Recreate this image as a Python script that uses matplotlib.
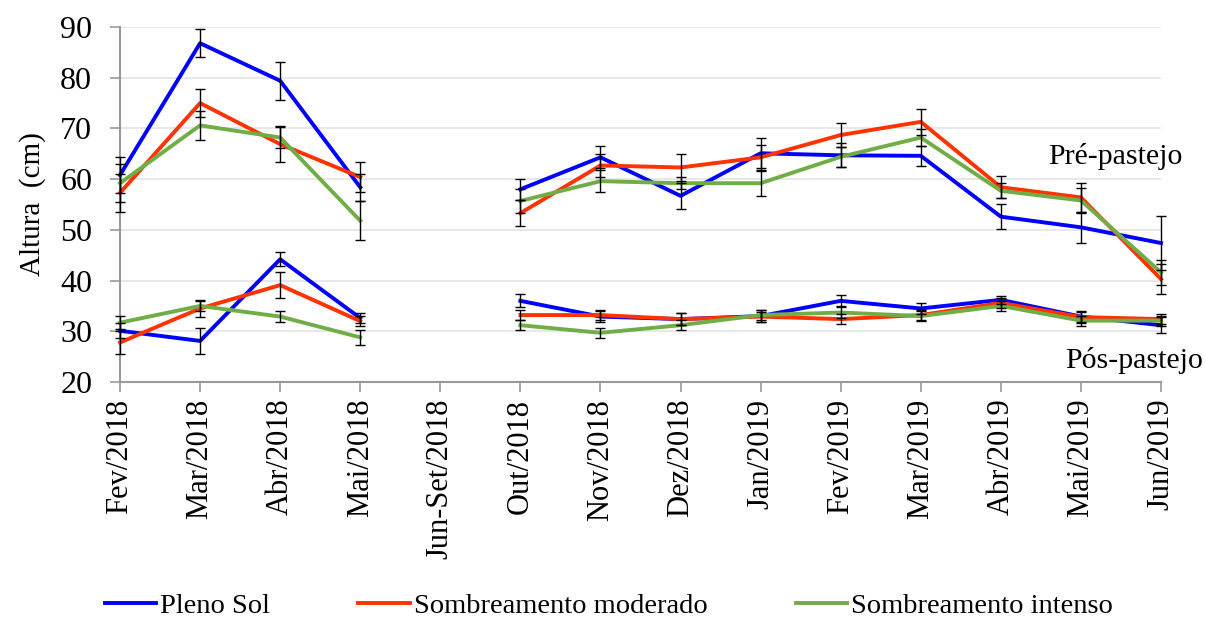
import numpy as np
import matplotlib.pyplot as plt

nan = np.nan

meses = ['Fev/2018', 'Mar/2018', 'Abr/2018', 'Mai/2018', 'Jun-Set/2018',
         'Out/2018', 'Nov/2018', 'Dez/2018', 'Jan/2019', 'Fev/2019',
         'Mar/2019', 'Abr/2019', 'Mai/2019', 'Jun/2019']

# pre-pastejo
pleno_pre = [60.8, 86.8, 79.4, 58.4, nan, 58.0, 64.3, 56.7, 65.1, 64.7, 64.6, 52.6, 50.5, 47.4]
moder_pre = [57.3, 75.0, 66.9, 60.4, nan, 53.3, 62.7, 62.3, 64.3, 68.7, 71.3, 58.4, 56.4, 40.3]
inten_pre = [59.2, 70.6, 68.2, 51.8, nan, 55.7, 59.6, 59.2, 59.2, 64.4, 68.2, 57.7, 55.8, 41.6]
pleno_pre_err = [3.6, 2.8, 3.7, 2.7, nan, 2.1, 2.2, 2.5, 3.0, 2.4, 2.0, 2.5, 3.0, 5.3]
moder_pre_err = [3.7, 2.7, 3.5, 3.0, nan, 2.5, 2.2, 2.6, 2.5, 2.4, 2.6, 2.2, 2.9, 3.0]
inten_pre_err = [3.7, 2.9, 2.0, 3.8, nan, 2.3, 2.2, 1.2, 2.5, 2.0, 1.7, 1.5, 2.5, 2.5]

# pos-pastejo
pleno_pos = [30.1, 28.1, 44.2, 32.6, nan, 36.0, 32.9, 32.4, 33.0, 36.0, 34.5, 36.2, 32.9, 31.2]
moder_pos = [27.8, 34.5, 39.1, 32.0, nan, 33.2, 33.2, 32.4, 32.9, 32.4, 33.2, 35.6, 32.8, 32.4]
inten_pos = [31.7, 35.0, 32.9, 28.8, nan, 31.2, 29.7, 31.2, 33.2, 33.7, 33.0, 35.0, 32.1, 32.1]
pleno_pos_err = [1.5, 2.5, 1.4, 1.0, nan, 1.3, 1.1, 1.2, 1.2, 1.1, 1.0, 0.8, 1.0, 1.6]
moder_pos_err = [2.3, 1.6, 2.5, 1.0, nan, 1.0, 1.0, 1.2, 1.0, 1.0, 1.0, 1.0, 1.2, 1.0]
inten_pos_err = [1.3, 1.0, 1.1, 1.5, nan, 1.0, 1.0, 1.0, 1.0, 1.0, 1.0, 1.0, 1.0, 1.0]

cores = ['#0000FF', '#FF3300', '#70AD47']
nomes = ['Pleno Sol', 'Sombreamento moderado', 'Sombreamento intenso']

plt.rcParams['font.family'] = ['Liberation Serif', 'DejaVu Serif']

fig = plt.figure(figsize=(12.06, 6.25), dpi=100)
ax = fig.add_axes([0.0995, 0.3888, 0.8632, 0.568])

x = np.arange(len(meses))
pre = [(pleno_pre, pleno_pre_err), (moder_pre, moder_pre_err), (inten_pre, inten_pre_err)]
pos = [(pleno_pos, pleno_pos_err), (moder_pos, moder_pos_err), (inten_pos, inten_pos_err)]

for (y, e), c, n in zip(pre, cores, nomes):
    ax.plot(x, y, color=c, lw=2.8, label=n, zorder=3, clip_on=False)
    ax.errorbar(x, y, yerr=e, fmt='none', ecolor='black', elinewidth=1.0,
                capsize=3.6, capthick=1.0, zorder=4, clip_on=False)
for (y, e), c in zip(pos, cores):
    ax.plot(x, y, color=c, lw=2.8, zorder=3, clip_on=False)
    ax.errorbar(x, y, yerr=e, fmt='none', ecolor='black', elinewidth=1.0,
                capsize=3.6, capthick=1.0, zorder=4, clip_on=False)

ax.set_xlim(0, 13)
ax.set_ylim(20, 90)
ax.set_yticks(range(20, 91, 10))
ax.set_xticks(x)
ax.set_xticklabels(meses, rotation=90, fontsize=22)
ax.tick_params(axis='y', labelsize=23, length=7, width=1.2, color='#999999', pad=13)
ax.tick_params(axis='x', length=7, width=1.2, color='#999999', pad=5)
ax.grid(axis='y', color='#e6e6e6', lw=1.3, zorder=0)
ax.set_axisbelow(True)
for s in ['top', 'right']:
    ax.spines[s].set_visible(False)
for s in ['left', 'bottom']:
    ax.spines[s].set_color('#999999')
    ax.spines[s].set_linewidth(1.5)

ax.set_ylabel('Altura  (cm)', fontsize=21, labelpad=10)

ax.text(13.27, 64.4, 'Pré-pastejo', fontsize=21.5, ha='right', va='center', clip_on=False)
ax.text(13.53, 24.3, 'Pós-pastejo', fontsize=21.5, ha='right', va='center', clip_on=False)

fig.legend(loc='center', bbox_to_anchor=(0.505, 0.03), ncol=3, frameon=False,
           fontsize=20.5, handlelength=1.8, handletextpad=0.15, columnspacing=3.1,
           borderpad=0.2)

fig.savefig('out.png', dpi=100)
